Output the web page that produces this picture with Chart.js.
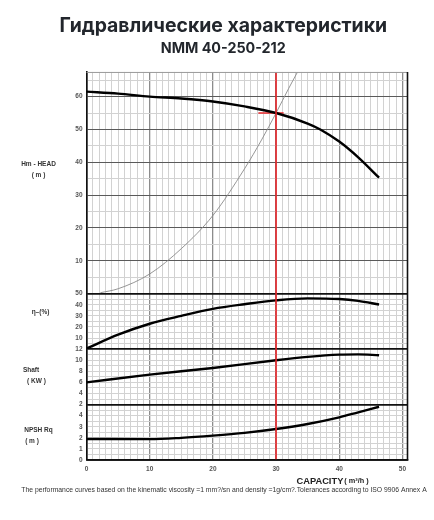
<!DOCTYPE html>
<html>
<head>
<meta charset="utf-8">
<script src="https://cdn.jsdelivr.net/npm/chart.js@4.4.1/dist/chart.umd.min.js"></script>
<style>
  html, body { margin: 0; padding: 0; background: #fff; }
  #wrap { position: relative; width: 434px; height: 520px; }
</style>
</head>
<body>
<div id="wrap"><canvas id="chart"></canvas></div>
<script>
// capacity axis (m3/h)
const capacityMax = 50.8;

// Hm - HEAD (m)
const headQ = [0, 5, 10, 15, 20, 25, 30, 35, 37, 40, 43, 46.3];
const headH = [61.5, 60.9, 60.0, 59.4, 58.5, 57.0, 55.0, 51.8, 50.0, 46.3, 41.5, 35.3];

// system curve (thin grey)
const systemQ = [2.2, 5, 10, 15, 20, 25, 27.7, 30, 32, 33.4];
const systemH = [0.3, 1.5, 6.0, 13.7, 23.8, 38.0, 46.8, 55.0, 62.5, 67.5];

// efficiency (%)
const etaQ = [0, 5, 10, 15, 20, 25, 30, 35, 40, 43, 46.3];
const etaV = [0.5, 13.0, 22.9, 30.0, 36.3, 40.5, 44.0, 45.8, 45.2, 43.5, 40.2];

// shaft power (kW)
const shaftQ = [0, 10, 20, 30, 35, 40, 43, 46.3];
const shaftP = [6.0, 7.4, 8.6, 10.0, 10.6, 11.0, 11.05, 10.9];

// NPSH required (m)
const npshQ = [0, 10, 15, 20, 25, 30, 35, 40, 43, 46.3];
const npshV = [1.9, 1.88, 2.0, 2.2, 2.45, 2.8, 3.25, 3.85, 4.3, 4.8];

// duty point
const dutyQ = 30;
const dutyH = 55;
const dutyMarkQ = [27.2, 31.2];

const pts = (xs, ys) => xs.map((x, i) => ({ x: x, y: ys[i] }));

const TICK_FONT = { family: "'Liberation Sans', Arial, sans-serif", size: 6.5, weight: "bold" };
const TICK_COLOR = "#555";
const MINOR = "#d2d2d2";
const EDGE = "#111";
const PAD_LEFT = 39;

function panelAxis(opts) {
  return {
    type: "linear",
    position: "left",
    stack: "panels",
    stackWeight: opts.stackWeight,
    weight: opts.weight,
    min: opts.min,
    max: opts.max,
    afterFit: (scale) => { scale.width = 86.5 - PAD_LEFT; },
    border: { display: true, color: EDGE, width: 1.6 },
    grid: {
      drawTicks: false,
      color: opts.gridColor,
      lineWidth: (c) => (c.tick && opts.isEdge(c.tick.value) ? 1.4 : 1),
    },
    ticks: {
      stepSize: opts.step,
      autoSkip: false,
      includeBounds: false,
      padding: 4,
      font: TICK_FONT,
      color: TICK_COLOR,
      callback: opts.label,
    },
  };
}

const headAxis = panelAxis({
  stackWeight: 4, weight: 4, min: 0, max: 67.5, step: 5,
  isEdge: (v) => v === 0,
  gridColor: (c) => {
    const v = c.tick ? c.tick.value : 0;
    if (v === 0) return EDGE;
    return v % 10 === 0 ? "#5a5a5a" : MINOR;
  },
  label: (v) => (v % 10 === 0 && v > 0 && v <= 60 ? String(v) : ""),
});

const etaAxis = panelAxis({
  stackWeight: 1, weight: 3, min: 0, max: 50, step: 5,
  isEdge: (v) => v === 0 || v === 50,
  gridColor: (c) => (c.tick && (c.tick.value === 0 || c.tick.value === 50) ? EDGE : MINOR),
  label: (v) => (v % 10 === 0 && v > 0 ? String(v) : ""),
});

const shaftAxis = panelAxis({
  stackWeight: 1, weight: 2, min: 2, max: 12, step: 1,
  isEdge: (v) => v === 2 || v === 12,
  gridColor: (c) => (c.tick && (c.tick.value === 2 || c.tick.value === 12) ? EDGE : MINOR),
  label: (v) => (v % 2 === 0 ? String(v) : ""),
});

const npshAxis = panelAxis({
  stackWeight: 1, weight: 1, min: 0, max: 5, step: 0.5,
  isEdge: (v) => v === 0 || v === 5,
  gridColor: (c) => (c.tick && (c.tick.value === 0 || c.tick.value === 5) ? EDGE : MINOR),
  label: (v) => (v % 1 === 0 && v < 5 ? String(v) : ""),
});

const sideLabels = [
  { axis: "yHead", x: 38.5, lines: [["Hm - HEAD", 39.4], ["( m )", 36.0]] },
  { axis: "yEta", x: 40.5, lines: [["\u03b7\u2013(%)", 33.3]] },
  { axis: "yShaft", x: 31, lines: [["Shaft", 8.2]] },
  { axis: "yShaft", x: 36.5, lines: [["( KW )", 6.3]] },
  { axis: "yNpsh", x: 38.5, lines: [["NPSH Rq", 2.65]] },
  { axis: "yNpsh", x: 32, lines: [["( m )", 1.67]] },
];

const footnote = "The performance curves based on the kinematic viscosity =1 mm?/sn and density =1g/cm?.Tolerances according to ISO 9906 Annex A";

const extrasPlugin = {
  id: "extras",
  afterDatasetsDraw(chart) {
    const { ctx, chartArea, scales } = chart;
    const x = scales.x.getPixelForValue(dutyQ);
    ctx.save();
    ctx.strokeStyle = "#e8262a";
    ctx.lineWidth = 1.6;
    ctx.beginPath();
    ctx.moveTo(x, chartArea.top);
    ctx.lineTo(x, chartArea.bottom);
    ctx.stroke();
    ctx.restore();
  },
  afterDraw(chart) {
    const { ctx, chartArea, scales } = chart;
    ctx.save();
    // frame right/top
    ctx.strokeStyle = "#999";
    ctx.lineWidth = 1;
    ctx.beginPath();
    ctx.moveTo(chartArea.left, chartArea.top + 0.5);
    ctx.lineTo(chartArea.right, chartArea.top + 0.5);
    ctx.stroke();
    ctx.strokeStyle = EDGE;
    ctx.lineWidth = 1.6;
    ctx.beginPath();
    ctx.moveTo(chartArea.right, chartArea.top);
    ctx.lineTo(chartArea.right, chartArea.bottom);
    ctx.lineTo(chartArea.left, chartArea.bottom);
    ctx.stroke();

    // panel titles on the left
    ctx.fillStyle = "#333";
    ctx.textAlign = "center";
    ctx.textBaseline = "middle";
    ctx.font = "bold 6.5px 'Liberation Sans', Arial, sans-serif";
    sideLabels.forEach((s) => {
      s.lines.forEach(([txt, v]) => {
        ctx.fillText(txt, s.x, scales[s.axis].getPixelForValue(v));
      });
    });

    // x axis title
    ctx.textAlign = "left";
    ctx.fillStyle = "#222";
    ctx.font = "bold 9.3px 'Liberation Sans', Arial, sans-serif";
    ctx.fillText("CAPACITY", 296.5, 481.5);
    const w = ctx.measureText("CAPACITY").width;
    ctx.font = "bold 7.3px 'Liberation Sans', Arial, sans-serif";
    ctx.fillText("( m\u00b3/h )", 296.5 + w + 1, 481);

    // footnote
    ctx.fillStyle = "#333";
    ctx.font = "6.8px 'Liberation Sans', Arial, sans-serif";
    ctx.textAlign = "center";
    ctx.fillText(footnote, 224, 490.5);
    ctx.restore();
  },
};

new Chart(document.getElementById("chart"), {
  type: "line",
  data: {
    datasets: [
      {
        data: pts(headQ, headH), yAxisID: "yHead",
        borderColor: "#000", borderWidth: 2.4, cubicInterpolationMode: "monotone",
      },
      {
        data: pts(systemQ, systemH), yAxisID: "yHead",
        borderColor: "#8a8a8a", borderWidth: 0.9, cubicInterpolationMode: "monotone",
      },
      {
        data: pts(dutyMarkQ, [dutyH, dutyH]), yAxisID: "yHead",
        borderColor: "#e8262a", borderWidth: 1.5,
      },
      {
        data: pts(etaQ, etaV), yAxisID: "yEta",
        borderColor: "#000", borderWidth: 2.4, cubicInterpolationMode: "monotone",
      },
      {
        data: pts(shaftQ, shaftP), yAxisID: "yShaft",
        borderColor: "#000", borderWidth: 2.4, cubicInterpolationMode: "monotone",
      },
      {
        data: pts(npshQ, npshV), yAxisID: "yNpsh",
        borderColor: "#000", borderWidth: 2.4, cubicInterpolationMode: "monotone",
      },
    ],
  },
  options: {
    responsive: true,
    maintainAspectRatio: false,
    animation: false,
    events: [],
    elements: { point: { radius: 0 } },
    layout: { padding: { left: PAD_LEFT, right: 26.5, top: 0, bottom: 0 } },
    plugins: {
      legend: { display: false },
      tooltip: { enabled: false },
      title: {
        display: true,
        text: "Гидравлические характеристики",
        color: "#22262c",
        font: { family: "Inter, 'Noto Sans', sans-serif", size: 19.4, weight: "bold", lineHeight: 1.2 },
        padding: { top: 15, bottom: 1.5 },
      },
      subtitle: {
        display: true,
        text: "NMM 40-250-212",
        color: "#22262c",
        font: { family: "Inter, 'Noto Sans', sans-serif", size: 14.3, weight: "bold", lineHeight: 1.2 },
        padding: { top: 0, bottom: 15 },
      },
    },
    scales: {
      x: {
        type: "linear",
        min: 0,
        max: capacityMax,
        afterFit: (scale) => { scale.height = 60; },
        border: { display: true, color: EDGE, width: 1.6 },
        grid: {
          drawTicks: false,
          color: (c) => {
            const v = c.tick ? c.tick.value : 0;
            if (v === 0) return EDGE;
            return v % 10 === 0 ? "#8c8c8c" : MINOR;
          },
          lineWidth: (c) => (c.tick && c.tick.value % 10 === 0 ? 1.3 : 1),
        },
        ticks: {
          stepSize: 1,
          autoSkip: false,
          includeBounds: false,
          maxRotation: 0,
          padding: 5,
          font: TICK_FONT,
          color: TICK_COLOR,
          callback: (v) => (v % 10 === 0 ? String(v) : ""),
        },
      },
      yHead: headAxis,
      yEta: etaAxis,
      yShaft: shaftAxis,
      yNpsh: npshAxis,
    },
  },
  plugins: [extrasPlugin],
});
</script>
</body>
</html>
